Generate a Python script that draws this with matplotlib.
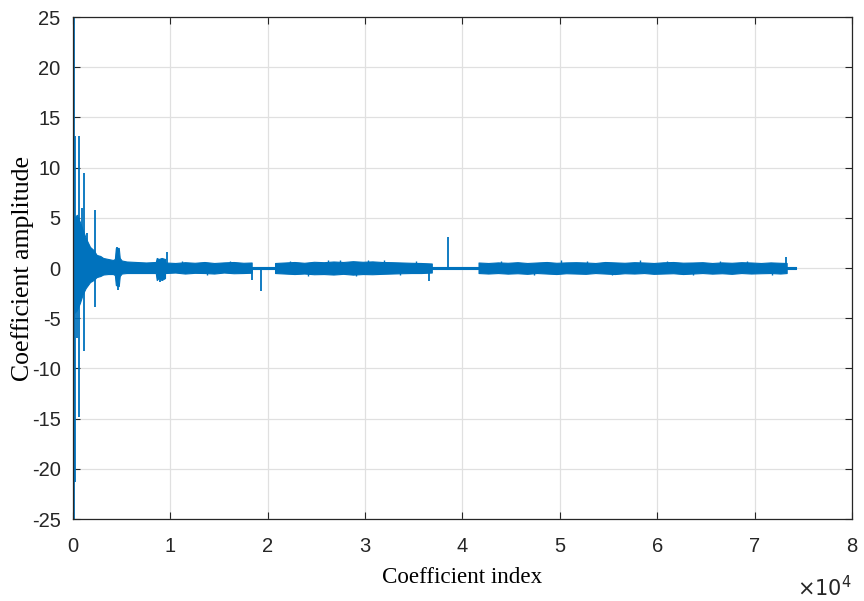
import matplotlib.pyplot as plt
import numpy as np

plt.rcParams['axes.unicode_minus'] = False

# envelope of the dense coefficient band
# early decaying part
early_x = [0, 100, 400, 700, 1000, 1300, 1750, 2100, 2430, 2800, 3100, 3600, 4100,
           4300, 4400, 4700, 4800, 5000, 5500, 6500, 7500, 8500, 8600, 8800, 9100, 9450]
early_top = [5.0, 5.0, 5.3, 4.6, 3.8, 3.0, 2.1, 1.8, 1.3, 1.2, 1.0, 0.9, 0.8,
             0.9, 2.0, 2.0, 1.0, 0.75, 0.65, 0.6, 0.55, 0.6, 1.0, 0.9, 1.0, 0.9]
early_bot = [-4.5, -4.5, -4.2, -3.5, -2.6, -2.0, -1.4, -1.2, -0.9, -0.8, -0.65, -0.6, -0.6,
             -0.7, -1.7, -1.8, -0.8, -0.55, -0.5, -0.5, -0.5, -0.5, -1.2, -1.0, -1.2, -1.0]

# three long bands of small coefficients
band1_x = [9500, 10500, 11500, 12500, 13500, 14500, 15500, 16500, 17500, 18350]
band1_top = [0.55, 0.5, 0.58, 0.52, 0.6, 0.5, 0.56, 0.6, 0.52, 0.55]
band1_bot = [-0.5, -0.45, -0.55, -0.48, -0.5, -0.55, -0.45, -0.52, -0.5, -0.47]

band2_x = [20750, 21750, 22750, 23750, 24750, 25750, 26750, 27750, 28750, 29750,
           30750, 31750, 32750, 33750, 34750, 35750, 36850]
band2_top = [0.5, 0.55, 0.6, 0.52, 0.62, 0.58, 0.65, 0.6, 0.68, 0.62,
             0.66, 0.6, 0.58, 0.55, 0.52, 0.5, 0.45]
band2_bot = [-0.5, -0.55, -0.6, -0.55, -0.62, -0.6, -0.65, -0.58, -0.66, -0.6,
             -0.62, -0.58, -0.55, -0.52, -0.5, -0.5, -0.45]

band3_x = [41650, 42650, 43650, 44650, 45650, 46650, 47650, 48650, 49650, 50650,
           51650, 52650, 53650, 54650, 55650, 56650, 57650, 58650, 59650, 60650,
           61650, 62650, 63650, 64650, 65650, 66650, 67650, 68650, 69650, 70650,
           71650, 72650, 73300]
band3_top = [0.55, 0.5, 0.56, 0.52, 0.58, 0.5, 0.55, 0.6, 0.52, 0.56,
             0.58, 0.55, 0.5, 0.6, 0.56, 0.52, 0.58, 0.55, 0.5, 0.57,
             0.6, 0.53, 0.55, 0.58, 0.5, 0.56, 0.52, 0.58, 0.55, 0.5,
             0.56, 0.52, 0.5]
band3_bot = [-0.5, -0.55, -0.5, -0.56, -0.52, -0.58, -0.5, -0.55, -0.6, -0.52,
             -0.55, -0.58, -0.5, -0.55, -0.6, -0.52, -0.55, -0.5, -0.58, -0.55,
             -0.52, -0.6, -0.55, -0.5, -0.56, -0.52, -0.58, -0.5, -0.55, -0.52,
             -0.5, -0.55, -0.5]

# quiet stretches between bands (near-zero coefficients)
quiet_x = [[18400, 20700], [36900, 41600], [73350, 74300]]
quiet_amp = [0.1, 0.1, 0.12]

# isolated large coefficients (index, amplitude)
spike_idx = [120, 130, 170, 250, 400, 650, 650, 900, 1130, 1150, 1400, 2230, 2300,
             4550, 4620, 8900, 9680, 18350, 19270, 36590, 38470, 73230]
spike_val = [25, -25, -21.3, 13.1, -7.0, 13.1, -14.8, 6.0, -8.3, 9.5, 3.5, -3.85, 5.8,
             2.1, -2.2, -1.35, 1.56, -1.2, -2.26, -1.26, 3.1, 1.06]

# small peaks poking out of the bands
peak_idx = [11200, 13800, 16100, 22300, 24100, 26200, 27400, 29100, 30300, 31900,
            33600, 35200, 44000, 47300, 50100, 52800, 55400, 58200, 61000, 63700,
            66500, 69200, 71800]
peak_val = [0.72, -0.7, 0.7, 0.74, -0.75, 0.78, 0.8, -0.8, 0.82, 0.76,
            -0.72, 0.7, 0.7, -0.72, 0.75, 0.72, -0.74, 0.76, 0.72, -0.7,
            0.74, 0.7, -0.72]

blue = '#0072BD'

fig = plt.figure(figsize=(8.64, 6.01), dpi=100)
ax = fig.add_axes([0.0845, 0.1364, 0.9015, 0.8353])

for bx, bt, bb in [(early_x, early_top, early_bot), (band1_x, band1_top, band1_bot),
                   (band2_x, band2_top, band2_bot), (band3_x, band3_top, band3_bot)]:
    ax.fill_between(bx, bb, bt, color=blue, linewidth=0.8, edgecolor=blue)
for (a, b), amp in zip(quiet_x, quiet_amp):
    ax.fill_between([a, b], [-amp, -amp], [amp, amp], color=blue, linewidth=0.8,
                    edgecolor=blue)
# join the segments along zero
ax.plot([0, 74300], [0, 0], color=blue, linewidth=1.2)
ax.vlines(spike_idx, 0, spike_val, color=blue, linewidth=1.3)
ax.vlines(peak_idx, 0, peak_val, color=blue, linewidth=1.0)

ax.set_xlim(0, 80000)
ax.set_ylim(-25, 25)
ax.set_xticks(np.arange(0, 80001, 10000))
ax.set_xticklabels([str(i) for i in range(9)])
ax.set_yticks(np.arange(-25, 26, 5))

for lab in ax.get_xticklabels() + ax.get_yticklabels():
    lab.set_fontfamily('Liberation Sans')
    lab.set_fontsize(14.5)

ax.tick_params(direction='in', length=5, top=True, right=True, colors='#262626',
               labelcolor='#262626')
ax.tick_params(axis='x', pad=13)
ax.tick_params(axis='y', pad=9)
ax.grid(True, color='#e0e0e0', linewidth=0.9)
ax.set_axisbelow(True)
for sp in ax.spines.values():
    sp.set_color('#262626')
    sp.set_linewidth(0.9)

ax.set_xlabel('Coefficient index', family='Liberation Serif', fontsize=16.6, labelpad=8)
ax.set_ylabel('Coefficient amplitude', family='Liberation Serif', fontsize=18.5, labelpad=-2)
fig.text(0.986, 0.002, r'$\times10^4$', ha='right', va='bottom', fontsize=15,
         family='Liberation Sans', color='#262626')

fig.savefig('out.png', dpi=100)
